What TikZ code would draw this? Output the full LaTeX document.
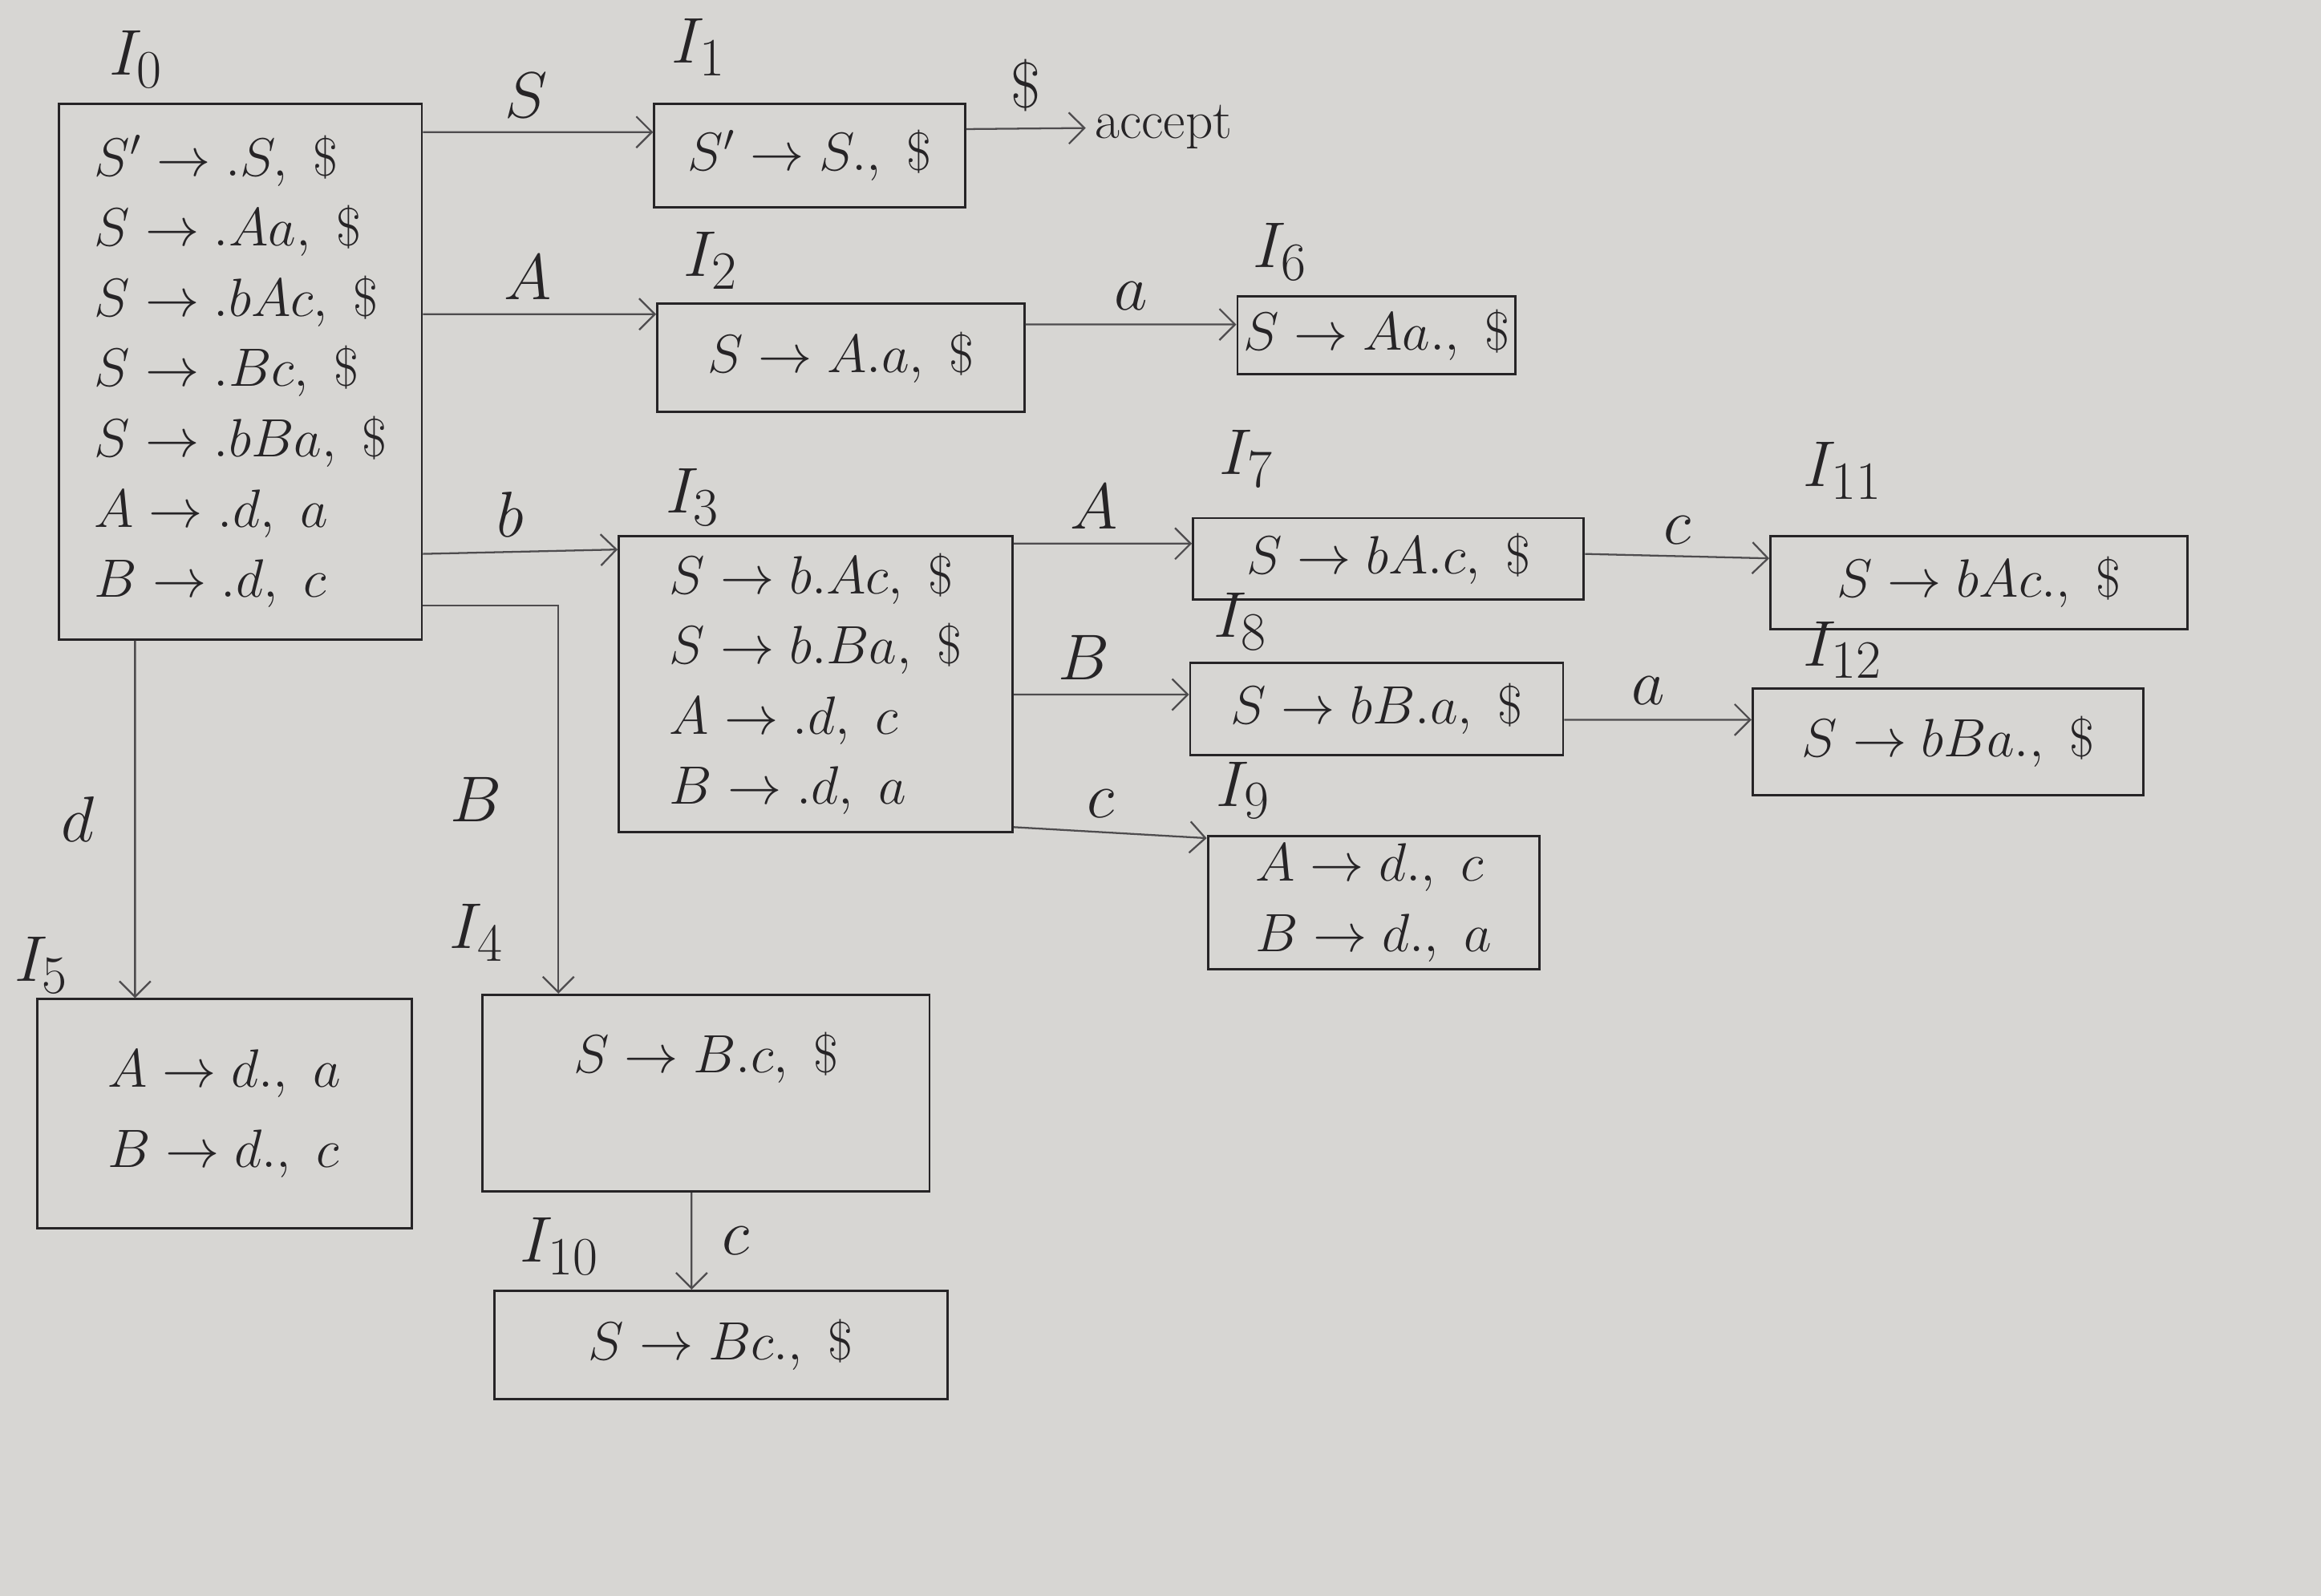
\documentclass[tikz,border=0pt]{standalone}
\usepackage{amsmath}
\usepackage{xcolor}
\usetikzlibrary{positioning, arrows.meta, calc}

\definecolor{paper}{RGB}{215,214,211}
\definecolor{ink}{RGB}{38,36,38}
\definecolor{pencil}{RGB}{78,76,78}

\tikzset{
  state box/.style={draw=ink, line width=0.9pt, rectangle, align=left, inner sep=0pt, text=ink, font={\linespread{1.08}\huge}},
  set name/.style={text=ink, font=\Huge},
  sym/.style={text=ink, font=\Huge},
  move/.style={->, draw=pencil, line width=0.7pt}
}

\begin{document}
\begin{tikzpicture}[x=0.02cm, y=-0.02cm, >={Straight Barb[length=6pt,width=12pt]}]
			\fill[paper] (0,0) rectangle (1568,1078);
			
			% item sets
			\node[state box, minimum width=4.9cm, minimum height=7.24cm] (I0) at (162.5,251)
			{$S'\to .S,\ \$$\\ $S\to .Aa,\ \$$\\ $S\to .bAc,\ \$$\\ $S\to .Bc,\ \$$\\ $S\to .bBa,\ \$$\\ $A\to .d,\ a$\\ $B\to .d,\ c$};
			\node[state box, minimum width=4.2cm, minimum height=1.4cm] (I1) at (547,105) {$S'\to S.,\ \$$};
			\node[state box, minimum width=4.96cm, minimum height=1.46cm] (I2) at (568,241.5) {$S\to A.a,\ \$$};
			\node[state box, minimum width=5.32cm, minimum height=4cm] (I3) at (551,462)
			{$S\to b.Ac,\ \$$\\ $S\to b.Ba,\ \$$\\ $A\to .d,\ c$\\ $B\to .d,\ a$};
			\node[state box, minimum width=6.04cm, minimum height=2.66cm] (I4) at (477,738.5) {};
			\node[state box, minimum width=5.06cm, minimum height=3.1cm] (I5) at (151.5,752.5)
			{$A\to d.,\ a$\\[4pt] $B\to d.,\ c$};
			\node[state box, minimum width=3.76cm, minimum height=1.06cm] (I6) at (930,226.5) {$S\to Aa.,\ \$$};
			\node[state box, minimum width=5.28cm, minimum height=1.1cm] (I7) at (938,377.5) {$S\to bA.c,\ \$$};
			\node[state box, minimum width=5.04cm, minimum height=1.24cm] (I8) at (930,479) {$S\to bB.a,\ \$$};
			\node[state box, minimum width=4.48cm, minimum height=1.8cm] (I9) at (928,610)
			{$A\to d.,\ c$\\ $B\to d.,\ a$};
			\node[state box, minimum width=6.12cm, minimum height=1.46cm] (I10) at (487,908.5) {$S\to Bc.,\ \$$};
			\node[state box, minimum width=5.64cm, minimum height=1.26cm] (I11) at (1337,393.5) {$S\to bAc.,\ \$$};
			\node[state box, minimum width=5.28cm, minimum height=1.44cm] (I12) at (1316,501) {$S\to bBa.,\ \$$};
			\node[text=ink, font=\huge, anchor=north] (t4) at ([yshift=-0.4cm]I4.north) {$S\to B.c,\ \$$};
			
			% set names
			\node[set name] (n0) at (92,40) {$I_0$};
			\node[set name] (n1) at (472,32) {$I_1$};
			\node[set name] (n2) at (480,176) {$I_2$};
			\node[set name] (n3) at (468,336) {$I_3$};
			\node[set name] (n4) at (322,630) {$I_4$};
			\node[set name] (n5) at (28,652) {$I_5$};
			\node[set name] (n6) at (865,170) {$I_6$};
			\node[set name] (n7) at (842,310) {$I_7$};
			\node[set name] (n8) at (838,420) {$I_8$};
			\node[set name] (n9) at (840,534) {$I_9$};
			\node[set name] (n10) at (378,842) {$I_{10}$};
			\node[set name] (n11) at (1245,318) {$I_{11}$};
			\node[set name] (n12) at (1245,439) {$I_{12}$};
			
			\node[text=ink, font=\huge] (acc) at (786,86) {accept};
			
			% transitions
			\draw[move] ([yshift=-0.4cm]I0.north east) -- node[sym, above=2pt, pos=0.45] {$S$} ([yshift=-0.4cm]I1.north west);
			\draw[move] ([yshift=-2.86cm]I0.north east) -- node[sym, above=2pt, pos=0.45] {$A$} ([yshift=-0.16cm]I2.north west);
			\draw[move] ([yshift=-6.1cm]I0.north east) -- node[sym, above=2pt, pos=0.45] {$b$} ([yshift=-0.2cm]I3.north west);
			\draw[move] ([yshift=-6.8cm]I0.north east) -| node[sym, left=18pt, pos=0.75] {$B$} ([xshift=1.04cm]I4.north west);
			\draw[move] ([xshift=1.04cm]I0.south west) -- node[sym, left=12pt] {$d$} ([xshift=1.34cm]I5.north west);
			\draw[move] ([yshift=-0.36cm]I1.north east) -- node[sym, above=3pt, pos=0.5] {$\$$} (acc);
			\draw[move] ([yshift=-0.3cm]I2.north east) -- node[sym, above=2pt] {$a$} ([yshift=-0.4cm]I6.north west);
			\draw[move] ([yshift=-0.12cm]I3.north east) -- node[sym, above=2pt, pos=0.45] {$A$} ([yshift=-0.36cm]I7.north west);
			\draw[move] ([yshift=-2.16cm]I3.north east) -- node[sym, above=2pt, pos=0.4] {$B$} ([yshift=-0.44cm]I8.north west);
			\draw[move] ([yshift=0.08cm]I3.south east) -- node[sym, above=2pt, pos=0.45] {$c$} ([yshift=-0.04cm]I9.north west);
			\draw[move] ([yshift=-0.5cm]I7.north east) -- node[sym, above=1pt] {$c$} ([yshift=-0.32cm]I11.north west);
			\draw[move] ([yshift=-0.78cm]I8.north east) -- node[sym, above=2pt, pos=0.45] {$a$} ([yshift=-0.44cm]I12.north west);
			\draw[move] ([xshift=2.84cm]I4.south west) -- node[sym, right=8pt] {$c$} ([xshift=2.68cm]I10.north west);
		\end{tikzpicture}
\end{document}
